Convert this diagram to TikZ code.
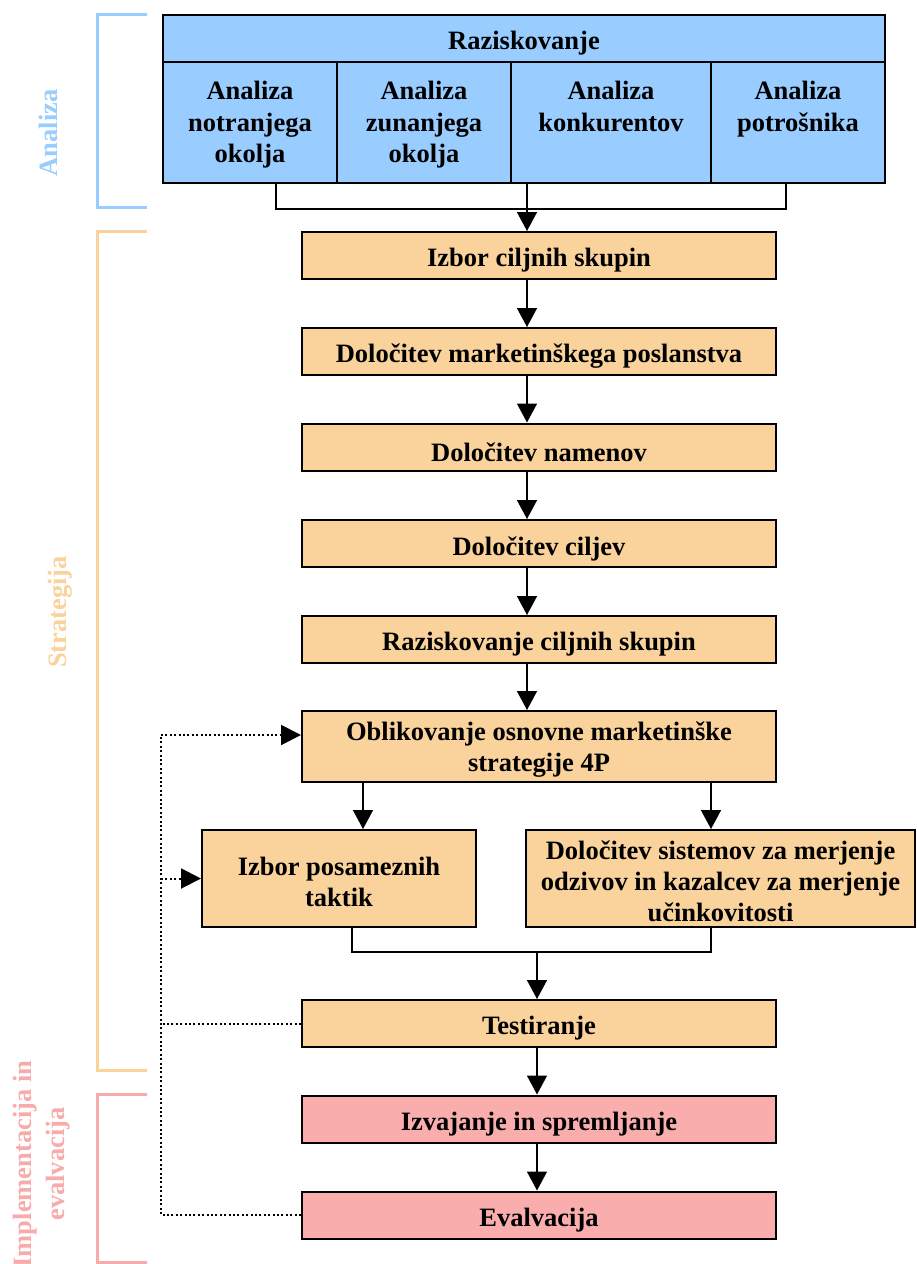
\documentclass[tikz,border=0pt]{standalone}
\usepackage{fontspec}
\setmainfont{Liberation Serif}
\usetikzlibrary{arrows.meta}
\definecolor{cblue}{HTML}{99CCFF}
\definecolor{corange}{HTML}{FAD29C}
\definecolor{cpink}{HTML}{F9ADAD}
\definecolor{tblue}{HTML}{99CCFF}
\definecolor{torange}{HTML}{FAD29C}
\definecolor{tpink}{HTML}{F8ABAB}
\tikzset{
  txt/.style={font=\fontsize{26.5}{31}\selectfont\bfseries, align=center, inner sep=0pt},
  box/.style={draw=black, line width=2pt, inner sep=0pt},
  obox/.style={box, fill=corange},
  pbox/.style={box, fill=cpink},
  bbox/.style={box, fill=cblue},
  one/.style={label={[txt, yshift=-5pt]center:{#1}}},
  two/.style={label={[txt, yshift=-3pt]center:{#1}}},
  conn/.style={line width=1.5pt},
  arr/.style={conn, -{Triangle[width=20pt,length=19pt]}},
  dotl/.style={line width=2pt, dash pattern=on 2pt off 2.4pt},
  darr/.style={dotl, -{Triangle[width=20pt,length=20pt]}},
  brk/.style={line width=3pt},
  side/.style={font=\fontsize{26.5}{33}\selectfont\bfseries, align=center, inner sep=0pt, rotate=90},
}
\begin{document}
\begin{tikzpicture}[x=1pt,y=-1pt]
\useasboundingbox (0,0) rectangle (916,1264);
% top analysis block
\node[bbox, minimum width=722pt, minimum height=47pt, one={Raziskovanje}] (hdr) at (524,38.5) {};
\node[bbox, minimum width=174pt, minimum height=121pt] (c1) at (250,122.5) {};
\node[bbox, minimum width=174pt, minimum height=121pt] (c2) at (424,122.5) {};
\node[bbox, minimum width=200pt, minimum height=121pt] (c3) at (611,122.5) {};
\node[bbox, minimum width=174pt, minimum height=121pt] (c4) at (798,122.5) {};
\node[txt, font=\fontsize{26.5}{31.5}\selectfont\bfseries, anchor=north, yshift=-20pt] (t1) at (c1.north) {Analiza\\notranjega\\okolja};
\node[txt, font=\fontsize{26.5}{31.5}\selectfont\bfseries, anchor=north, yshift=-20pt] (t2) at (c2.north) {Analiza\\zunanjega\\okolja};
\node[txt, font=\fontsize{26.5}{31.5}\selectfont\bfseries, anchor=north, yshift=-20pt] (t3) at (c3.north) {Analiza\\konkurentov};
\node[txt, font=\fontsize{26.5}{31.5}\selectfont\bfseries, anchor=north, yshift=-20pt] (t4) at (c4.north) {Analiza\\potrošnika};
% strategy boxes
\node[obox, minimum width=474pt, minimum height=47pt, one={Izbor ciljnih skupin}] (b1) at (539,255.5) {};
\node[obox, minimum width=474pt, minimum height=47pt, one={Določitev marketinškega poslanstva}] (b2) at (539,351.5) {};
\node[obox, minimum width=474pt, minimum height=47pt, one={Določitev namenov}] (b3) at (539,447) {};
\node[obox, minimum width=474pt, minimum height=47pt, one={Določitev ciljev}] (b4) at (539,543.5) {};
\node[obox, minimum width=474pt, minimum height=47pt, one={Raziskovanje ciljnih skupin}] (b5) at (539,639.5) {};
\node[obox, minimum width=474pt, minimum height=71pt, two={Oblikovanje osnovne marketinške\\strategije 4P}] (o) at (539,746.5) {};
\node[obox, minimum width=274pt, minimum height=97pt, two={Izbor posameznih\\taktik}] (i1) at (339,878.5) {};
\node[obox, minimum width=389pt, minimum height=97pt, two={Določitev sistemov za merjenje\\odzivov in kazalcev za merjenje\\učinkovitosti}] (i2) at (720.5,878.5) {};
\node[obox, minimum width=474pt, minimum height=47pt, one={Testiranje}] (t) at (539,1023.5) {};
\node[pbox, minimum width=474pt, minimum height=47pt, one={Izvajanje in spremljanje}] (iz) at (539,1119) {};
\node[pbox, minimum width=474pt, minimum height=47pt, one={Evalvacija}] (ev) at (539,1215) {};
% helper coordinates
\coordinate (xa) at (527,0);
\coordinate (xb) at (537,0);
\coordinate (xl) at (276,0);
\coordinate (xr) at (786,0);
\coordinate (xo1) at (363,0);
\coordinate (xo2) at (711,0);
\coordinate (xm1) at (352,0);
\coordinate (dl) at (161,0);
\coordinate (yo) at (0,735);
\coordinate (m) at (537,951);
% connectors
\draw[conn] (c1.south -| xl) -- ++(0,25) -| (c4.south -| xr);
\draw[arr] (c3.south -| xa) -- (b1.north -| xa);
\draw[arr] (b1.south -| xa) -- (b2.north -| xa);
\draw[arr] (b2.south -| xa) -- (b3.north -| xa);
\draw[arr] (b3.south -| xa) -- (b4.north -| xa);
\draw[arr] (b4.south -| xa) -- (b5.north -| xa);
\draw[arr] (b5.south -| xa) -- (o.north -| xa);
\draw[arr] (o.south -| xo1) -- (i1.north -| xo1);
\draw[arr] (o.south -| xo2) -- (i2.north -| xo2);
\draw[conn] (i1.south -| xm1) -- ++(0,24) -| (i2.south -| xo2);
\draw[arr] (m) -- (t.north -| m);
\draw[arr] (t.south -| xb) -- (iz.north -| xb);
\draw[arr] (iz.south -| xb) -- (ev.north -| xb);
% dotted feedback
\draw[dotl] (ev.west) -- (ev.west -| dl) -- (dl |- yo);
\draw[darr] (dl |- yo) -- (o.west |- yo);
\draw[darr] (i1.west -| dl) -- (i1.west);
\draw[dotl] (t.west) -- (t.west -| dl);
% brackets
\draw[brk, tblue] (147,14) -- (97,14) -- (97,207) -- (147,207);
\draw[brk, torange] (147,231) -- (97,231) -- (97,1070) -- (147,1070);
\draw[brk, tpink] (147,1094) -- (97,1094) -- (97,1262) -- (147,1262);
\node[side, text=tblue] (la) at (48,133) {Analiza};
\node[side, text=torange] (ls) at (60,612) {Strategija};
\node[side, text=tpink] (li) at (42,1164) {Implementacija in\\evalvacija};
\end{tikzpicture}
\end{document}
